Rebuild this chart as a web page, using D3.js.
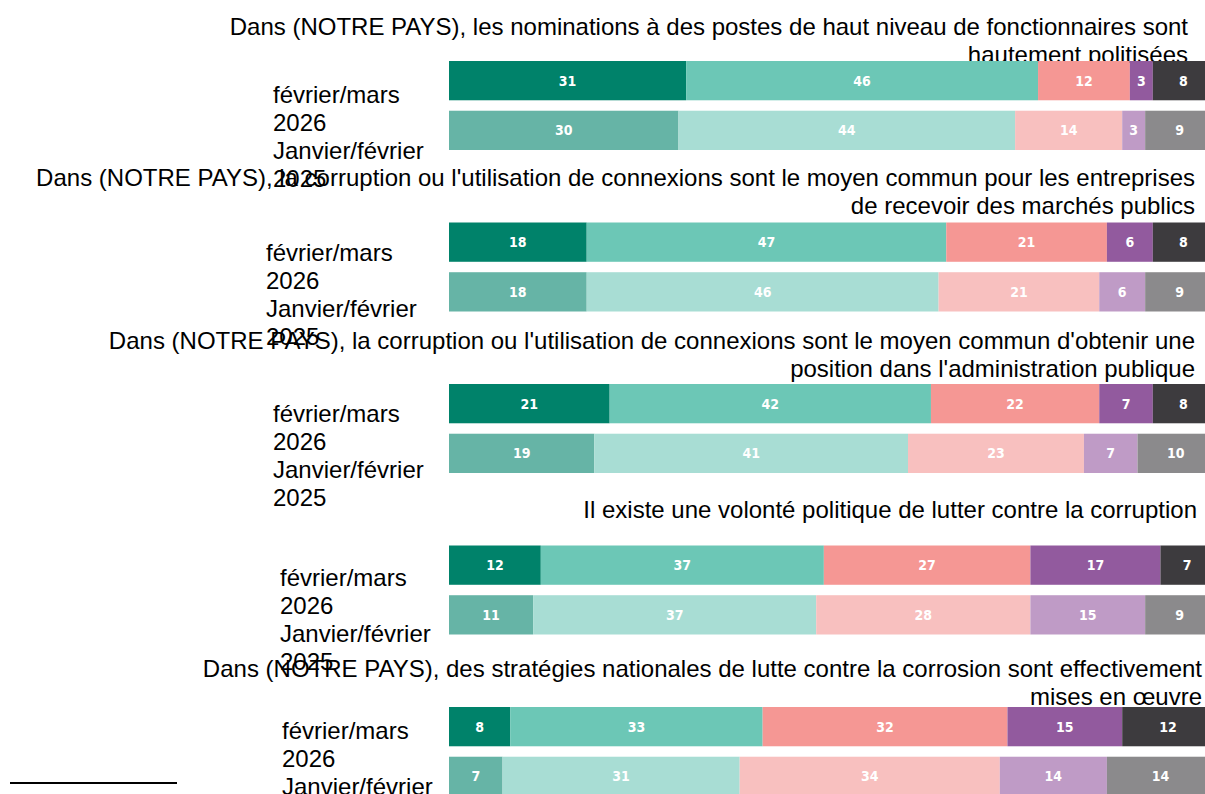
<!DOCTYPE html>
<html>
<head>
<meta charset="utf-8">
<script src="https://cdn.jsdelivr.net/npm/d3@7"></script>
<style>
  html, body { margin: 0; padding: 0; background: #fff; }
  svg { display: block; }
</style>
</head>
<body>
<svg id="chart" width="1205" height="794"></svg>
<script>
// ---- Data ----
const titles = [
  ["Dans (NOTRE PAYS), les nominations à des postes de haut niveau de fonctionnaires sont", "hautement politisées"],
  ["Dans (NOTRE PAYS), la corruption ou l'utilisation de connexions sont le moyen commun pour les entreprises", "de recevoir des marchés publics"],
  ["Dans (NOTRE PAYS), la corruption ou l'utilisation de connexions sont le moyen commun d'obtenir une", "position dans l'administration publique"],
  ["Il existe une volonté politique de lutter contre la corruption"],
  ["Dans (NOTRE PAYS), des stratégies nationales de lutte contre la corrosion sont effectivement", "mises en œuvre"]
];
const periods = ["février/mars 2026", "Janvier/février 2025"];
const periodLines = [["février/mars", "2026"], ["Janvier/février", "2025"]];
const answers = ["Tout à fait d'accord", "Plutôt d'accord", "Plutôt pas d'accord", "Pas du tout d'accord", "NSP"];
const values2026 = [
  [31, 46, 12, 3, 8],
  [18, 47, 21, 6, 8],
  [21, 42, 22, 7, 8],
  [12, 37, 27, 17, 7],
  [8, 33, 32, 15, 12]
];
const values2025 = [
  [30, 44, 14, 3, 9],
  [18, 46, 21, 6, 9],
  [19, 41, 23, 7, 10],
  [11, 37, 28, 15, 9],
  [7, 31, 34, 14, 14]
];
const colors2026 = ["#00826a", "#6cc7b6", "#f59794", "#925a9e", "#3d3b3e"];
const colors2025 = ["#66b4a6", "#a8ddd4", "#f8c0bf", "#bf9bc6", "#8b8a8c"];

// ---- Layout ----
const barLeft = 449, barRight = 1214;
const groupTop0 = 61, groupStep = 161.5, groupHeight = 89;
const titleY = [27, 178, 341, 510, 669];
const titleRight = [1188, 1195, 1195, 1197, 1202];
const labelX = [273, 266, 273, 280, 282];
const labelY = [95, 253, 414, 578, 731];
const lineH = 27.7;

const svg = d3.select("#chart");
const x = d3.scaleLinear().domain([0, 100]).range([barLeft, barRight]);

titles.forEach((t, gi) => {
  const g = svg.append("g");
  const top = groupTop0 + gi * groupStep;
  const y = d3.scaleBand().domain(periods).range([top, top + groupHeight]).paddingInner(0.21);

  // title
  g.selectAll("text.title").data(t).join("text")
    .attr("class", "title")
    .attr("x", titleRight[gi])
    .attr("y", (d, i) => titleY[gi] + i * 28)
    .attr("dy", "0.35em")
    .attr("text-anchor", "end")
    .attr("font-family", "'Liberation Sans', Arial, sans-serif")
    .attr("font-size", 24)
    .attr("fill", "#000")
    .text(d => d);

  const series = [values2026[gi], values2025[gi]];
  const palettes = [colors2026, colors2025];
  periods.forEach((p, pi) => {
    const vals = series[pi];
    const stacked = [];
    let acc = 0;
    vals.forEach((v, k) => { stacked.push({ k, v, x0: acc, x1: acc + v }); acc += v; });
    const row = g.append("g");
    row.selectAll("rect").data(stacked).join("rect")
      .attr("x", d => x(d.x0))
      .attr("y", y(p))
      .attr("width", d => x(d.x1) - x(d.x0))
      .attr("height", y.bandwidth())
      .attr("fill", d => palettes[pi][d.k]);
    row.selectAll("text").data(stacked).join("text")
      .attr("x", d => (x(d.x0) + x(d.x1)) / 2)
      .attr("y", y(p) + y.bandwidth() / 2)
      .attr("dy", "0.36em")
      .attr("text-anchor", "middle")
      .attr("font-family", "'DejaVu Sans Condensed', 'DejaVu Sans', sans-serif")
      .attr("font-weight", "bold")
      .attr("font-size", 14)
      .attr("fill", "#fff")
      .text(d => d.v);
  });

  // period labels (wrapped)
  const lines = periodLines[0].concat(periodLines[1]);
  g.selectAll("text.plabel").data(lines).join("text")
    .attr("class", "plabel")
    .attr("x", labelX[gi])
    .attr("y", (d, i) => labelY[gi] + i * lineH)
    .attr("dy", "0.35em")
    .attr("font-family", "'Liberation Sans', Arial, sans-serif")
    .attr("font-size", 24)
    .attr("fill", "#000")
    .text(d => d);
});

// footnote rule
svg.append("line")
  .attr("x1", 10).attr("x2", 177)
  .attr("y1", 783).attr("y2", 783)
  .attr("stroke", "#000").attr("stroke-width", 2);
</script>
</body>
</html>
